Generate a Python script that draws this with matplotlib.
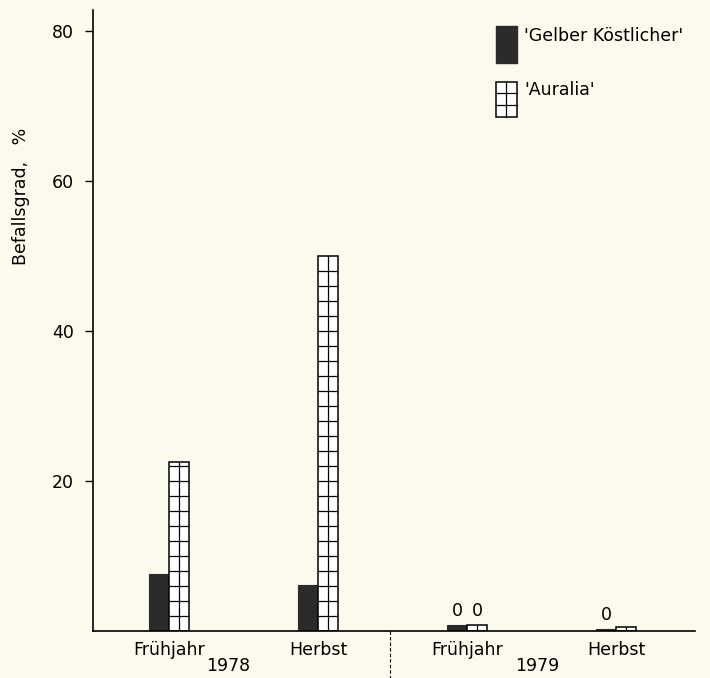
import numpy as np
import matplotlib.pyplot as plt
from matplotlib.patches import Rectangle

# data
seasons = ['Frühjahr', 'Herbst', 'Frühjahr', 'Herbst']
years = ['1978', '1979']
gelber = [7.6, 6.2, 0.8, 0.3]
auralia = [22.5, 50.0, 0.8, 0.6]
zero_labels = [(2, 'g'), (2, 'a'), (3, 'g')]   # bars marked with "0"

bg = '#fcfaec'
dark = '#2b2b2b'
fs = 12.5

fig = plt.figure(figsize=(7.1, 6.78), dpi=100, facecolor=bg)
ax = fig.add_axes([0.131, 0.0693, 0.848, 0.916], facecolor=bg)

x = np.arange(len(seasons))
w = 0.134

# 'Gelber Köstlicher' - solid dark bars
ax.bar(x - w / 2, gelber, width=w, color=dark, edgecolor=dark, linewidth=0.8)

# 'Auralia' - white bars with a grid drawn inside
ax.bar(x + w / 2, auralia, width=w, color='white', edgecolor='black', linewidth=1.1)
for xi, v in zip(x, auralia):
    ax.vlines(xi + w / 2, 0, v, color='black', linewidth=0.9)
    levels = np.arange(2, v, 2)
    ax.hlines(levels, xi, xi + w, color='black', linewidth=0.9)

# "0" marks above the 1979 bars
for i, which in zero_labels:
    xx = x[i] - w / 2 if which == 'g' else x[i] + w / 2
    hh = gelber[i] if which == 'g' else auralia[i]
    ax.text(xx, hh + 0.7, '0', ha='center', va='bottom', fontsize=fs)

ax.set_xlim(-0.51, 3.53)
ax.set_ylim(0, 82.8)
ax.set_yticks([20, 40, 60, 80])
ax.set_yticklabels(['20', '40', '60', '80'], fontsize=fs)
ax.tick_params(axis='y', direction='out', length=6, width=1, pad=8)
ax.set_xticks(x)
ax.set_xticklabels(seasons, fontsize=fs)
ax.tick_params(axis='x', length=0, pad=7)

for s in ['top', 'right']:
    ax.spines[s].set_visible(False)
ax.spines['left'].set_linewidth(1.2)
ax.spines['bottom'].set_linewidth(1.2)

ax.set_ylabel('Befallsgrad,   %', fontsize=fs)
ax.yaxis.set_label_coords(-0.105, 0.70)

# year labels and separator
ax.text(0.224, -0.057, years[0], transform=ax.transAxes, ha='center', va='center', fontsize=fs)
ax.text(0.738, -0.057, years[1], transform=ax.transAxes, ha='center', va='center', fontsize=fs)
ax.plot([1.48, 1.48], [0, -0.08], transform=ax.get_xaxis_transform(), color='black',
        linewidth=0.8, linestyle=(0, (3, 2)), clip_on=False)

# legend drawn by hand
ax.add_patch(Rectangle((0.669, 0.915), 0.035, 0.059, transform=ax.transAxes,
                       facecolor=dark, edgecolor=dark, clip_on=False))
ax.text(0.716, 0.958, "'Gelber Köstlicher'", transform=ax.transAxes, va='center', fontsize=fs)
ax.add_patch(Rectangle((0.669, 0.828), 0.035, 0.056, transform=ax.transAxes,
                       facecolor='white', edgecolor='black', linewidth=1.1, clip_on=False))
ax.plot([0.6865, 0.6865], [0.828, 0.884], transform=ax.transAxes, color='black', linewidth=0.9)
for yy in [0.847, 0.866]:
    ax.plot([0.669, 0.704], [yy, yy], transform=ax.transAxes, color='black', linewidth=0.9)
ax.text(0.716, 0.871, "'Auralia'", transform=ax.transAxes, va='center', fontsize=fs)

fig.savefig('out.png', dpi=100, facecolor=bg)
